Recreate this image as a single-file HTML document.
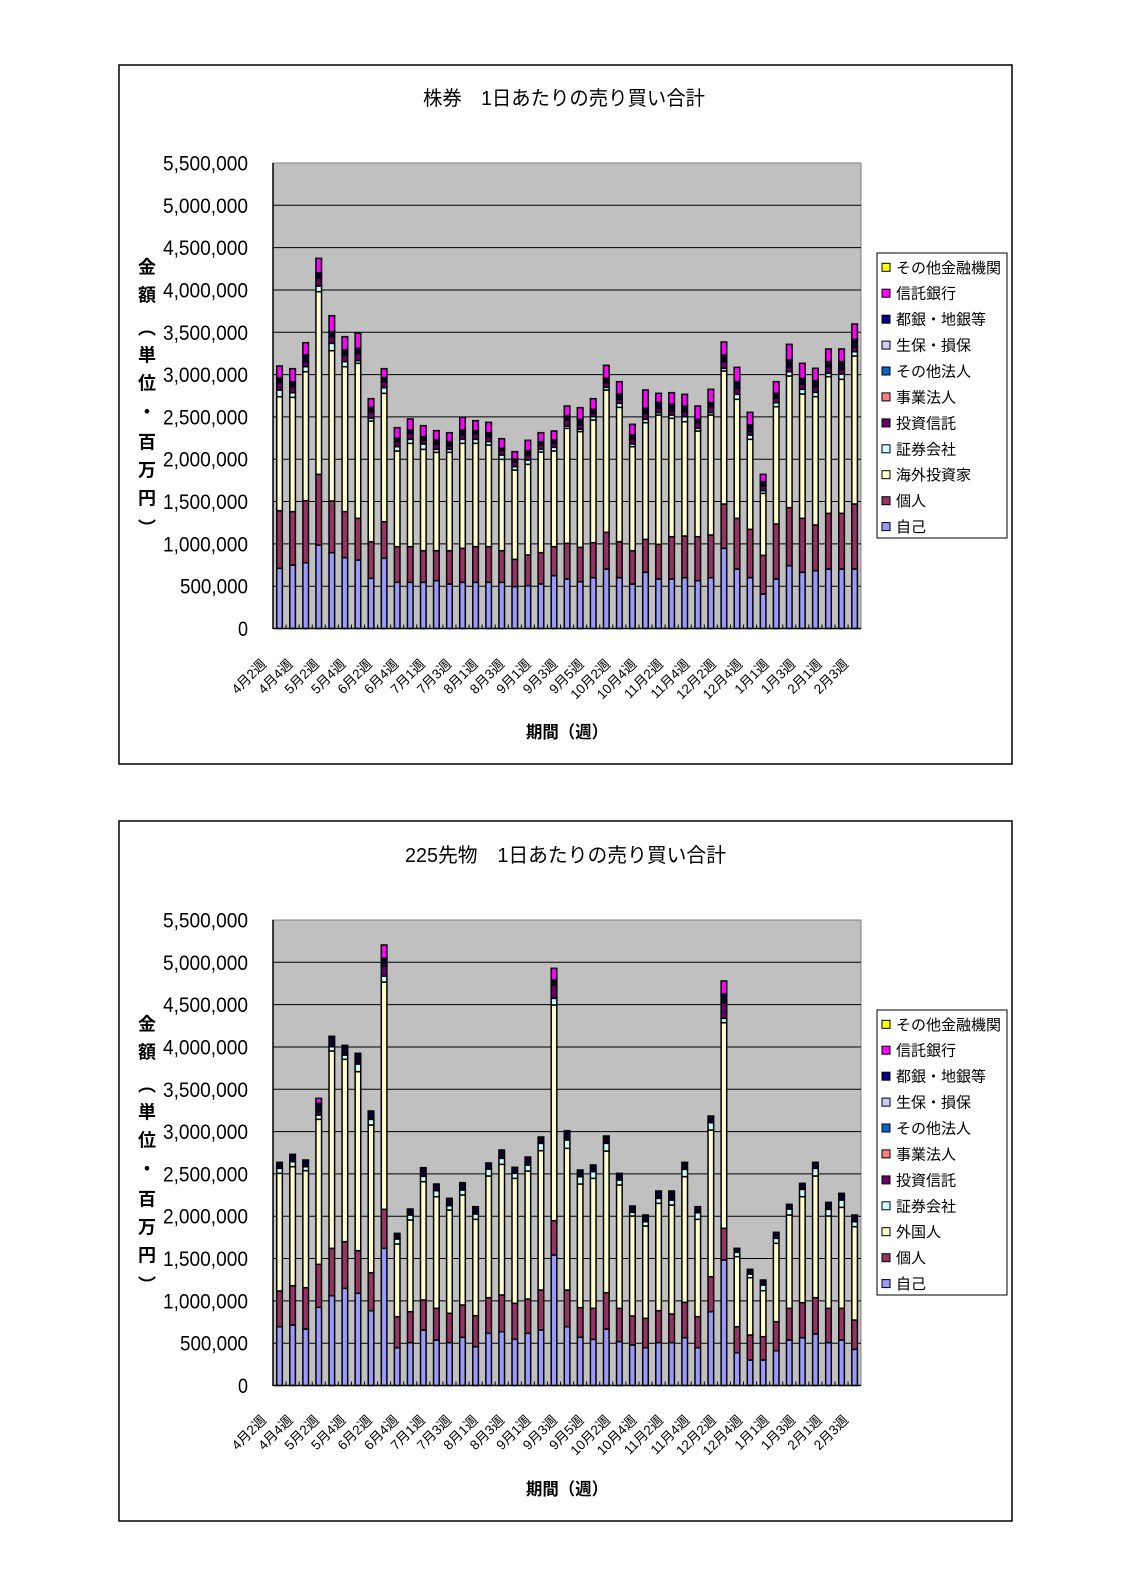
<!DOCTYPE html>
<html>
<head>
<meta charset="utf-8">
<style>
html,body{margin:0;padding:0;background:#fff;}
svg{display:block;}
text{font-family:"Liberation Sans","Noto Sans CJK JP",sans-serif;fill:#000;}
.yl{font-size:21px;}
.xl{font-size:13.5px;}
.lg{font-size:15px;}
.tt{font-size:20px;}
.yt{font-size:18px;font-weight:bold;}
.xt{font-size:17px;font-weight:bold;}
</style>
</head>
<body>
<svg id="s" width="1123" height="1587" viewBox="0 0 1123 1587">
<rect x="0" y="0" width="1123" height="1587" fill="#fff"/>

<!-- ================= CHART 1 ================= -->
<rect x="119" y="65" width="893" height="699" fill="#fff" stroke="#000" stroke-width="1.5"/>
<text class="tt" x="564" y="105" text-anchor="middle" textLength="282" lengthAdjust="spacingAndGlyphs">株券　1日あたりの売り買い合計</text>

<rect x="273" y="163" width="588" height="465.5" fill="#C0C0C0" stroke="#808080" stroke-width="1"/>
<g stroke="#000" stroke-width="1">
<line x1="273" x2="861" y1="205.3" y2="205.3"/>
<line x1="273" x2="861" y1="247.6" y2="247.6"/>
<line x1="273" x2="861" y1="290.0" y2="290.0"/>
<line x1="273" x2="861" y1="332.3" y2="332.3"/>
<line x1="273" x2="861" y1="374.6" y2="374.6"/>
<line x1="273" x2="861" y1="416.9" y2="416.9"/>
<line x1="273" x2="861" y1="459.2" y2="459.2"/>
<line x1="273" x2="861" y1="501.5" y2="501.5"/>
<line x1="273" x2="861" y1="543.9" y2="543.9"/>
<line x1="273" x2="861" y1="586.2" y2="586.2"/>
</g>
<g id="b1"></g>
<g id="tk1" stroke="#000" stroke-width="1"></g>
<line x1="273" x2="273" y1="163" y2="629" stroke="#000" stroke-width="1.5"/>
<line x1="273" x2="861" y1="628.5" y2="628.5" stroke="#000" stroke-width="1.5"/>

<g class="yl" text-anchor="end">
<text x="248" y="170.5" textLength="85" lengthAdjust="spacingAndGlyphs">5,500,000</text>
<text x="248" y="212.8" textLength="85" lengthAdjust="spacingAndGlyphs">5,000,000</text>
<text x="248" y="255.1" textLength="85" lengthAdjust="spacingAndGlyphs">4,500,000</text>
<text x="248" y="297.5" textLength="85" lengthAdjust="spacingAndGlyphs">4,000,000</text>
<text x="248" y="339.8" textLength="85" lengthAdjust="spacingAndGlyphs">3,500,000</text>
<text x="248" y="382.1" textLength="85" lengthAdjust="spacingAndGlyphs">3,000,000</text>
<text x="248" y="424.4" textLength="85" lengthAdjust="spacingAndGlyphs">2,500,000</text>
<text x="248" y="466.7" textLength="85" lengthAdjust="spacingAndGlyphs">2,000,000</text>
<text x="248" y="509.0" textLength="85" lengthAdjust="spacingAndGlyphs">1,500,000</text>
<text x="248" y="551.4" textLength="85" lengthAdjust="spacingAndGlyphs">1,000,000</text>
<text x="248" y="593.7" textLength="68" lengthAdjust="spacingAndGlyphs">500,000</text>
<text x="248" y="636.0" textLength="10" lengthAdjust="spacingAndGlyphs">0</text>
</g>

<g class="yt" text-anchor="middle">
<text x="147" y="273.5">金</text>
<text x="147" y="301.5">額</text>
<text x="147" y="334.5">︵</text>
<text x="147" y="361.5">単</text>
<text x="147" y="389.5">位</text>
<text x="147" y="418.5">・</text>
<text x="147" y="448.5">百</text>
<text x="147" y="476.5">万</text>
<text x="147" y="504.5">円</text>
<text x="147" y="534.5">︶</text>
</g>

<g class="xl" text-anchor="end">
<text transform="translate(267.0,665) rotate(-45)">4月2週</text>
<text transform="translate(293.5,665) rotate(-45)">4月4週</text>
<text transform="translate(319.9,665) rotate(-45)">5月2週</text>
<text transform="translate(346.4,665) rotate(-45)">5月4週</text>
<text transform="translate(372.8,665) rotate(-45)">6月2週</text>
<text transform="translate(399.3,665) rotate(-45)">6月4週</text>
<text transform="translate(425.8,665) rotate(-45)">7月1週</text>
<text transform="translate(452.2,665) rotate(-45)">7月3週</text>
<text transform="translate(478.7,665) rotate(-45)">8月1週</text>
<text transform="translate(505.1,665) rotate(-45)">8月3週</text>
<text transform="translate(531.6,665) rotate(-45)">9月1週</text>
<text transform="translate(558.1,665) rotate(-45)">9月3週</text>
<text transform="translate(584.5,665) rotate(-45)">9月5週</text>
<text transform="translate(611.0,665) rotate(-45)">10月2週</text>
<text transform="translate(637.4,665) rotate(-45)">10月4週</text>
<text transform="translate(663.9,665) rotate(-45)">11月2週</text>
<text transform="translate(690.4,665) rotate(-45)">11月4週</text>
<text transform="translate(716.8,665) rotate(-45)">12月2週</text>
<text transform="translate(743.3,665) rotate(-45)">12月4週</text>
<text transform="translate(769.7,665) rotate(-45)">1月1週</text>
<text transform="translate(796.2,665) rotate(-45)">1月3週</text>
<text transform="translate(822.7,665) rotate(-45)">2月1週</text>
<text transform="translate(849.1,665) rotate(-45)">2月3週</text>
</g>

<text class="xt" x="567" y="738" text-anchor="middle" textLength="82" lengthAdjust="spacingAndGlyphs">期間（週）</text>

<rect x="877" y="253" width="130" height="285" fill="#fff" stroke="#000" stroke-width="1"/>
<g stroke="#000" stroke-width="1">
<rect x="882" y="263.3" width="8" height="8" fill="#FFFF00"/>
<rect x="882" y="289.2" width="8" height="8" fill="#FF00FF"/>
<rect x="882" y="315.2" width="8" height="8" fill="#000080"/>
<rect x="882" y="341.1" width="8" height="8" fill="#CCCCFF"/>
<rect x="882" y="367.0" width="8" height="8" fill="#0066CC"/>
<rect x="882" y="392.9" width="8" height="8" fill="#FF8080"/>
<rect x="882" y="418.9" width="8" height="8" fill="#660066"/>
<rect x="882" y="444.8" width="8" height="8" fill="#CCFFFF"/>
<rect x="882" y="470.7" width="8" height="8" fill="#FFFFCC"/>
<rect x="882" y="496.7" width="8" height="8" fill="#993366"/>
<rect x="882" y="522.6" width="8" height="8" fill="#9999FF"/>
</g>
<g class="lg">
<text x="896" y="272.8">その他金融機関</text>
<text x="896" y="298.7">信託銀行</text>
<text x="896" y="324.7">都銀・地銀等</text>
<text x="896" y="350.6">生保・損保</text>
<text x="896" y="376.5">その他法人</text>
<text x="896" y="402.4">事業法人</text>
<text x="896" y="428.4">投資信託</text>
<text x="896" y="454.3">証券会社</text>
<text x="896" y="480.2">海外投資家</text>
<text x="896" y="506.2">個人</text>
<text x="896" y="532.1">自己</text>
</g>

<!-- ================= CHART 2 ================= -->
<rect x="119" y="821" width="893" height="700" fill="#fff" stroke="#000" stroke-width="1.5"/>
<text class="tt" x="565.5" y="862" text-anchor="middle" textLength="321" lengthAdjust="spacingAndGlyphs">225先物　1日あたりの売り買い合計</text>

<rect x="273" y="920" width="588" height="465.5" fill="#C0C0C0" stroke="#808080" stroke-width="1"/>
<g stroke="#000" stroke-width="1">
<line x1="273" x2="861" y1="962.3" y2="962.3"/>
<line x1="273" x2="861" y1="1004.6" y2="1004.6"/>
<line x1="273" x2="861" y1="1047.0" y2="1047.0"/>
<line x1="273" x2="861" y1="1089.3" y2="1089.3"/>
<line x1="273" x2="861" y1="1131.6" y2="1131.6"/>
<line x1="273" x2="861" y1="1173.9" y2="1173.9"/>
<line x1="273" x2="861" y1="1216.2" y2="1216.2"/>
<line x1="273" x2="861" y1="1258.5" y2="1258.5"/>
<line x1="273" x2="861" y1="1300.9" y2="1300.9"/>
<line x1="273" x2="861" y1="1343.2" y2="1343.2"/>
</g>
<g id="b2"></g>
<g id="tk2" stroke="#000" stroke-width="1"></g>
<line x1="273" x2="273" y1="920" y2="1386" stroke="#000" stroke-width="1.5"/>
<line x1="273" x2="861" y1="1385.5" y2="1385.5" stroke="#000" stroke-width="1.5"/>

<g class="yl" text-anchor="end">
<text x="248" y="927.5" textLength="85" lengthAdjust="spacingAndGlyphs">5,500,000</text>
<text x="248" y="969.8" textLength="85" lengthAdjust="spacingAndGlyphs">5,000,000</text>
<text x="248" y="1012.1" textLength="85" lengthAdjust="spacingAndGlyphs">4,500,000</text>
<text x="248" y="1054.5" textLength="85" lengthAdjust="spacingAndGlyphs">4,000,000</text>
<text x="248" y="1096.8" textLength="85" lengthAdjust="spacingAndGlyphs">3,500,000</text>
<text x="248" y="1139.1" textLength="85" lengthAdjust="spacingAndGlyphs">3,000,000</text>
<text x="248" y="1181.4" textLength="85" lengthAdjust="spacingAndGlyphs">2,500,000</text>
<text x="248" y="1223.7" textLength="85" lengthAdjust="spacingAndGlyphs">2,000,000</text>
<text x="248" y="1266.0" textLength="85" lengthAdjust="spacingAndGlyphs">1,500,000</text>
<text x="248" y="1308.4" textLength="85" lengthAdjust="spacingAndGlyphs">1,000,000</text>
<text x="248" y="1350.7" textLength="68" lengthAdjust="spacingAndGlyphs">500,000</text>
<text x="248" y="1393.0" textLength="10" lengthAdjust="spacingAndGlyphs">0</text>
</g>

<g class="yt" text-anchor="middle">
<text x="147" y="1030.5">金</text>
<text x="147" y="1058.5">額</text>
<text x="147" y="1091.5">︵</text>
<text x="147" y="1118.5">単</text>
<text x="147" y="1146.5">位</text>
<text x="147" y="1175.5">・</text>
<text x="147" y="1205.5">百</text>
<text x="147" y="1233.5">万</text>
<text x="147" y="1261.5">円</text>
<text x="147" y="1291.5">︶</text>
</g>

<g class="xl" text-anchor="end">
<text transform="translate(267.0,1421) rotate(-45)">4月2週</text>
<text transform="translate(293.5,1421) rotate(-45)">4月4週</text>
<text transform="translate(319.9,1421) rotate(-45)">5月2週</text>
<text transform="translate(346.4,1421) rotate(-45)">5月4週</text>
<text transform="translate(372.8,1421) rotate(-45)">6月2週</text>
<text transform="translate(399.3,1421) rotate(-45)">6月4週</text>
<text transform="translate(425.8,1421) rotate(-45)">7月1週</text>
<text transform="translate(452.2,1421) rotate(-45)">7月3週</text>
<text transform="translate(478.7,1421) rotate(-45)">8月1週</text>
<text transform="translate(505.1,1421) rotate(-45)">8月3週</text>
<text transform="translate(531.6,1421) rotate(-45)">9月1週</text>
<text transform="translate(558.1,1421) rotate(-45)">9月3週</text>
<text transform="translate(584.5,1421) rotate(-45)">9月5週</text>
<text transform="translate(611.0,1421) rotate(-45)">10月2週</text>
<text transform="translate(637.4,1421) rotate(-45)">10月4週</text>
<text transform="translate(663.9,1421) rotate(-45)">11月2週</text>
<text transform="translate(690.4,1421) rotate(-45)">11月4週</text>
<text transform="translate(716.8,1421) rotate(-45)">12月2週</text>
<text transform="translate(743.3,1421) rotate(-45)">12月4週</text>
<text transform="translate(769.7,1421) rotate(-45)">1月1週</text>
<text transform="translate(796.2,1421) rotate(-45)">1月3週</text>
<text transform="translate(822.7,1421) rotate(-45)">2月1週</text>
<text transform="translate(849.1,1421) rotate(-45)">2月3週</text>
</g>

<text class="xt" x="567" y="1495" text-anchor="middle" textLength="82" lengthAdjust="spacingAndGlyphs">期間（週）</text>

<rect x="877" y="1010" width="130" height="285" fill="#fff" stroke="#000" stroke-width="1"/>
<g stroke="#000" stroke-width="1">
<rect x="882" y="1020.3" width="8" height="8" fill="#FFFF00"/>
<rect x="882" y="1046.2" width="8" height="8" fill="#FF00FF"/>
<rect x="882" y="1072.2" width="8" height="8" fill="#000080"/>
<rect x="882" y="1098.1" width="8" height="8" fill="#CCCCFF"/>
<rect x="882" y="1124.0" width="8" height="8" fill="#0066CC"/>
<rect x="882" y="1149.9" width="8" height="8" fill="#FF8080"/>
<rect x="882" y="1175.9" width="8" height="8" fill="#660066"/>
<rect x="882" y="1201.8" width="8" height="8" fill="#CCFFFF"/>
<rect x="882" y="1227.7" width="8" height="8" fill="#FFFFCC"/>
<rect x="882" y="1253.7" width="8" height="8" fill="#993366"/>
<rect x="882" y="1279.6" width="8" height="8" fill="#9999FF"/>
</g>
<g class="lg">
<text x="896" y="1029.8">その他金融機関</text>
<text x="896" y="1055.7">信託銀行</text>
<text x="896" y="1081.7">都銀・地銀等</text>
<text x="896" y="1107.6">生保・損保</text>
<text x="896" y="1133.5">その他法人</text>
<text x="896" y="1159.4">事業法人</text>
<text x="896" y="1185.4">投資信託</text>
<text x="896" y="1211.3">証券会社</text>
<text x="896" y="1237.2">外国人</text>
<text x="896" y="1263.2">個人</text>
<text x="896" y="1289.1">自己</text>
</g>
</svg>

<script>
(function(){
var d1=[
[985,812,470,450,428,413,378],[975,815,472,458,440,425,386],[968,782,395,380,365,345,308],
[915,703,155,138,115,98,55],[938,783,332,310,290,275,227],[953,815,380,365,345,330,290],
[960,835,370,362,340,325,280],[1015,905,543,535,515,502,476],[955,845,460,443,425,413,386],
[1027,920,633,620,605,595,563],[1027,920,610,598,580,570,537],[1027,932,628,612,600,590,557],
[1022,932,637,628,612,600,572],[1032,932,637,628,618,605,578],[1027,925,610,598,585,570,532],
[1027,920,610,598,582,572,542],[1027,920,615,605,590,578,547],[1027,932,658,645,632,625,596],
[1040,958,690,680,665,657,635],[1037,945,673,660,645,632,601],[1032,938,636,628,615,605,578],
[1007,920,633,622,610,600,573],[1017,910,565,558,540,528,498],[1025,922,575,568,555,538,503],
[1013,908,540,530,520,508,476],[987,877,450,442,428,415,376],[1013,905,502,490,478,462,425],
[1032,932,620,612,598,585,553],[997,898,548,538,520,505,450],[1017,913,525,518,505,487,460],
[1017,890,535,525,512,493,458],[1013,888,545,530,515,498,463],[1022,890,573,565,548,538,498],
[1013,885,525,518,500,488,448],[925,792,393,385,365,345,306],[987,835,478,463,445,425,382],
[1013,868,598,585,575,555,517],[1062,946,760,752,738,725,703],[1017,852,500,488,475,460,425],
[977,803,408,395,380,360,313],[997,835,462,448,432,415,370],[992,855,470,457,440,422,385],
[987,820,410,400,380,365,327],[987,820,418,402,387,365,327],[987,792,348,335,322,298,252]];
var d2=[
[1220,1113,760,745,745,727,727],[1215,1097,740,725,725,703,703],[1227,1103,752,740,740,720,720],
[1162,1033,598,585,575,550,535],[1127,985,393,380,380,349,349],[1105,965,418,405,405,376,376],
[1120,992,455,432,432,400,400],[1172,1058,615,598,598,573,573],[985,868,186,168,138,115,75],
[1283,1190,972,957,957,940,940],[1268,1175,900,885,885,867,867],[1230,1140,785,769,769,743,743],
[1260,1165,830,812,812,792,792],[1268,1180,870,857,857,835,835],[1252,1155,825,810,810,788,788],
[1280,1187,898,882,882,860,860],[1240,1133,768,747,747,729,729],[1235,1125,733,715,715,690,690],
[1258,1150,775,760,760,742,742],[1240,1137,753,735,735,711,711],[1230,1110,692,670,670,651,651],
[1005,902,255,235,195,180,145],[1220,1110,685,660,660,632,632],[1252,1163,792,770,770,750,750],
[1258,1165,775,755,755,735,735],[1227,1118,693,670,670,652,648],[1265,1165,795,780,780,760,760],
[1275,1188,888,877,877,858,858],[1283,1195,918,905,905,885,885],[1268,1172,850,835,835,813,813],
[1268,1182,855,840,840,813,813],[1253,1147,770,748,748,730,727],[1283,1190,898,878,878,860,860],
[1175,1070,630,608,608,588,588],[1020,925,308,295,248,222,183],[1298,1220,1010,997,997,985,985],
[1320,1245,1073,1062,1062,1048,1048],[1320,1250,1112,1095,1095,1080,1080],[1292,1205,970,955,955,937,937],
[1260,1165,885,867,867,853,853],[1253,1148,830,808,808,790,790],[1242,1133,768,745,745,727,727],
[1268,1165,888,868,868,847,847],[1260,1165,862,840,840,820,820],[1288,1200,920,905,905,885,885]];
var cols=['#9999FF','#993366','#FFFFCC','#CCFFFF','#660066','#0a0030','#FF00FF'];
function bars(id,data,oy,base){
  var s='';
  for(var i=0;i<data.length;i++){
    var r=data[i],cx=273+13.07*(i+0.5);
    var ys=[base];
    for(var k=0;k<7;k++) ys.push(oy+r[k]/3);
    for(var k=0;k<7;k++){
      var y0=ys[k],y1=ys[k+1];
      if(y0-y1>0.3){
        s+='<rect x="'+(cx-2.8).toFixed(2)+'" y="'+y1.toFixed(2)+'" width="5.6" height="'+(y0-y1).toFixed(2)+'" fill="'+cols[k]+'" stroke="#000" stroke-width="1.5"/>';
      }
    }
  }
  document.getElementById(id).insertAdjacentHTML('beforeend',s);
}
function ticks(id,base){
  var s='';
  for(var k=1;k<45;k++){var x=(273+13.07*k).toFixed(2);s+='<line x1="'+x+'" x2="'+x+'" y1="'+(base-4)+'" y2="'+base+'"/>';}
  document.getElementById(id).insertAdjacentHTML('beforeend',s);
}
bars('b1',d1,240,628.5);
bars('b2',d2,920,1385.5);
ticks('tk1',628.5);
ticks('tk2',1385.5);
})();
</script>
</body>
</html>
